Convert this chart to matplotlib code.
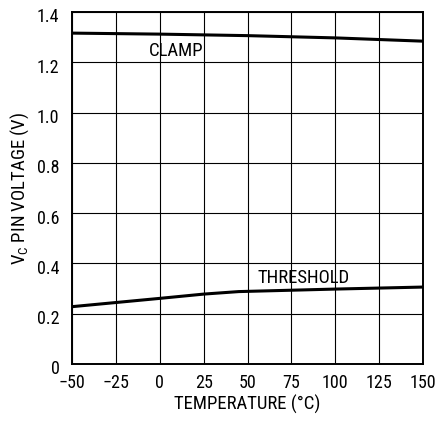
import matplotlib
matplotlib.use("Agg")
import matplotlib.pyplot as plt
import matplotlib.transforms as mtransforms

plt.rcParams['font.family'] = ['Roboto Condensed', 'Liberation Sans Narrow',
                               'DejaVu Sans Condensed', 'Liberation Sans', 'DejaVu Sans']

# clamp curve
clamp_temp = [-50, 0, 50, 100, 150]
clamp_v = [1.316, 1.312, 1.306, 1.297, 1.284]

# threshold curve
thresh_temp = [-50, 0, 25, 45, 100, 150]
thresh_v = [0.228, 0.261, 0.278, 0.288, 0.298, 0.306]

x_ticks = [-50, -25, 0, 25, 50, 75, 100, 125, 150]
x_labels = ['\u221250', '\u221225', '0', '25', '50', '75', '100', '125', '150']
y_ticks = [0, 0.2, 0.4, 0.6, 0.8, 1.0, 1.2, 1.4]
y_labels = ['0', '0.2', '0.4', '0.6', '0.8', '1.0', '1.2', '1.4']

fig = plt.figure(figsize=(4.38, 4.21), dpi=100)
ax = fig.add_axes([0.1644, 0.1354, 0.8014, 0.8361])

ax.plot(clamp_temp, clamp_v, color='black', lw=2.2, solid_capstyle='butt')
ax.plot(thresh_temp, thresh_v, color='black', lw=2.2, solid_capstyle='butt')

ax.set_xlim(-50, 150)
ax.set_ylim(0, 1.4)
ax.set_xticks(x_ticks)
ax.set_xticklabels(x_labels)
ax.set_yticks(y_ticks)
ax.set_yticklabels(y_labels)
ax.tick_params(length=0, labelsize=13)
ax.tick_params(axis='x', pad=7.5)
ax.tick_params(axis='y', pad=9)
ax.grid(True, color='black', lw=0.8)
for s in ax.spines.values():
    s.set_linewidth(1.4)

# y tick labels sit a little below their grid lines
shift = mtransforms.ScaledTranslation(0, -3.5 / 100, fig.dpi_scale_trans)
for lab in ax.get_yticklabels():
    lab.set_transform(lab.get_transform() + shift)

ax.text(9.3, 1.246, 'CLAMP', ha='center', va='center', fontsize=13.5)
ax.text(82, 0.343, 'THRESHOLD', ha='center', va='center', fontsize=13.5)

ax.set_xlabel('TEMPERATURE (\u00b0C)', fontsize=13.5, labelpad=2)
ax.set_ylabel(r'V$_\mathregular{C}$ PIN VOLTAGE (V)', fontsize=13.5, labelpad=4)

fig.savefig('out.png', dpi=100)
